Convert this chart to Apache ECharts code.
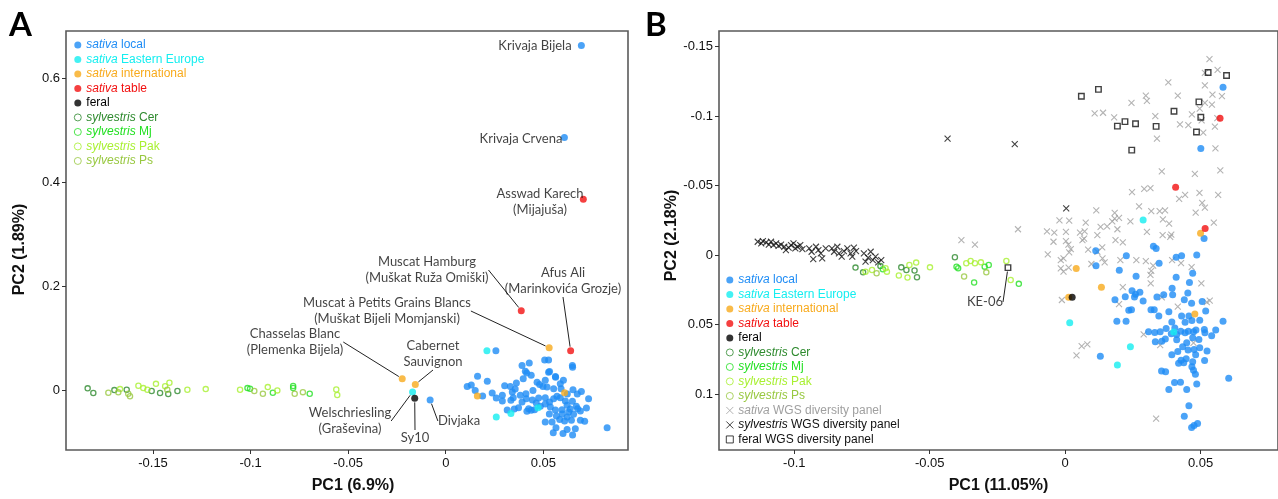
<!DOCTYPE html>
<html>
<head>
<meta charset="utf-8">
<title>PCA</title>
<script src="https://cdn.jsdelivr.net/npm/echarts@6/dist/echarts.min.js"></script>
<style>
html, body { margin:0; padding:0; background:#fff; }
#grafico { width:1278px; height:499px; }
</style>
</head>
<body>
<div id="grafico"></div>
<script>
// ---------- panel A (PC1 6.9% / PC2 1.89%) ----------
var aLocal = [
[0.0695,0.663],[0.0608,0.486],[-0.0080,-0.0190],
[0.0163,0.0268],[0.0213,0.0172],[0.0110,0.0071],[0.0131,0.0096],[0.0151,-0.0006],[0.0189,-0.0115],[0.0259,-0.0153],[0.0290,-0.0101],[0.0290,-0.0210],[0.0302,0.0082],
[0.0331,0.0071],[0.0334,-0.0197],[0.0346,-0.0147],[0.0382,-0.0101],[0.0411,-0.0071],[0.0413,-0.0166],[0.0391,-0.0229],[0.0373,-0.0338],[0.0425,-0.0358],[0.0438,-0.0388],
[0.0416,-0.0407],[0.0397,0.0216],[0.0408,0.0363],[0.0391,0.0472],[0.0447,-0.0006],[0.0468,0.0153],[0.0481,0.0109],[0.0498,0.0071],[0.0519,0.0057],[0.0527,0.0344],
[0.0476,-0.0153],[0.0510,-0.0147],[0.0455,-0.0377],[0.0485,-0.0312],[0.0562,0.0262],[0.0553,0.0025],[0.0587,0.0120],[0.0591,0.0025],[0.0532,-0.0229],[0.0553,-0.0166],
[0.0570,-0.0120],[0.0587,-0.0147],[0.0613,-0.0210],[0.0652,0.0006],[0.0695,-0.0025],[0.0732,-0.0166],[0.0649,-0.0216],[0.0669,-0.0312],[0.0676,-0.0358],[0.0622,-0.0293],
[0.0596,-0.0377],[0.0630,-0.0421],[0.0655,-0.0465],[0.0622,-0.0516],[0.0584,-0.0568],[0.0609,-0.0593],[0.0644,-0.0579],[0.0690,-0.0579],[0.0712,-0.0598],[0.0545,-0.0612],
[0.0565,-0.0727],[0.0622,-0.0759],[0.0601,-0.0836],[0.0650,-0.0866],[0.0664,-0.0746],[0.0827,-0.0727],[0.0650,0.0440],[0.0257,0.0759],[0.0428,0.0522],[0.0507,0.0579],
[0.0527,0.0579],[0.0649,0.0472],[0.0532,0.0358],[0.0563,0.0249],[0.0415,0.0330],[0.0341,-0.0038],[0.0356,0.0019],[0.0444,-0.0191],[0.0464,-0.0249],[0.0510,-0.0268],
[0.0536,-0.0325],[0.0562,-0.0382],[0.0531,-0.0459],[0.0567,-0.0497],[0.0597,-0.0459],[0.0638,-0.0363],[0.0674,-0.0076],[0.0623,-0.0076],[0.0603,0.0191],[0.0510,0.0191],
[0.0438,0.0287],[0.0362,0.0134],[0.0238,-0.0057],[0.0315,-0.0382],[0.0351,-0.0363],[0.0551,-0.0822],[0.0510,-0.0612],[0.0690,-0.0401],[0.0721,-0.0344]
];
var aEast  = [[0.0211,0.0759],[-0.0170,-0.0038],[0.0259,-0.0516],[0.0334,-0.0453],[0.0473,-0.0338]];
var aIntl  = [[-0.0223,0.0220],[-0.0156,0.0109],[0.0530,0.0816],[0.0162,-0.0115],[0.0609,-0.0052]];
var aTable = [[0.0705,0.367],[0.0387,0.1529],[0.0640,0.0759]];
var aFeral = [[-0.0159,-0.0159]];
var aCer = [[-0.1835,0.0033],[-0.1806,-0.0057],[-0.1698,0.0000],[-0.1635,0.0006],[-0.1507,-0.0019],[-0.1464,-0.0057],[-0.1422,-0.0076],[-0.1375,-0.0019]];
var aMj  = [[-0.1016,0.0038],[-0.1003,0.0025],[-0.0886,-0.0052],[-0.0782,0.0080],[-0.0782,0.0040],[-0.0697,-0.0070]];
var aPak = [[-0.1669,0.0019],[-0.1575,0.0082],[-0.1550,0.0038],[-0.1529,0.0006],[-0.1485,0.0120],[-0.1438,0.0076],[-0.1416,0.0140],[-0.1324,0.0006],
            [-0.1230,0.0019],[-0.1054,0.0006],[-0.0912,0.0057],[-0.0863,-0.0006],[-0.0561,0.0010],[-0.0556,-0.0095]];
var aPs  = [[-0.1729,-0.0052],[-0.1678,-0.0044],[-0.1627,-0.0071],[-0.1618,-0.0120],[-0.1427,0.0006],[-0.0981,-0.0019],[-0.0937,-0.0071],[-0.0774,-0.0070],[-0.0732,-0.0040]];
var aNotas = [
[0.0695,0.663,"Krivaja Bijela"],
[0.0608,0.486,"Krivaja Crvena"],
[0.0705,0.367,"Asswad Karech\n(Mijajuša)"],
[0.0387,0.1529,"Muscat Hamburg\n(Muškat Ruža Omiški)"],
[0.0640,0.0759,"Afus Ali\n(Marinkovića Grozje)"],
[0.0530,0.0816,"Muscat à Petits Grains Blancs\n(Muškat Bijeli Momjanski)"],
[-0.0223,0.0220,"Chasselas Blanc\n(Plemenka Bijela)"],
[-0.0156,0.0109,"Cabernet\nSauvignon"],
[-0.0170,-0.0038,"Welschriesling\n(Graševina)"],
[-0.0159,-0.0159,"Sy10"],
[-0.0080,-0.0190,"Divjaka"]
];
var aTicksX = [-0.15,-0.1,-0.05,0,0.05];
var aTicksY = [0,0.2,0.4,0.6];

// ---------- panel B (PC1 11.05% / PC2 2.18%) ----------
var bLocal = [
[0.0583,-0.1207],[0.0501,-0.0767],[0.0513,-0.0119],[0.0326,-0.0064],[0.0336,-0.0048],[0.0113,-0.0031],[0.0226,0.0004],[0.0410,0.0016],[0.0430,0.0004],[0.0486,0.0000],
[0.0114,0.0076],[0.0347,0.0059],[0.0200,0.0109],[0.0471,0.0131],[0.0410,0.0159],[0.0459,0.0197],[0.0395,0.0238],[0.0247,0.0257],[0.0260,0.0281],[0.0276,0.0268],
[0.0256,0.0302],[0.0222,0.0300],[0.0184,0.0321],[0.0364,0.0286],[0.0397,0.0286],[0.0453,0.0273],[0.0440,0.0321],[0.0467,0.0347],[0.0506,0.0333],[0.0235,0.0397],
[0.0245,0.0393],[0.0317,0.0393],[0.0329,0.0393],[0.0383,0.0407],[0.0191,0.0476],[0.0225,0.0476],[0.0443,0.0483],[0.0468,0.0471],[0.0497,0.0468],[0.0583,0.0476],
[0.0373,0.0528],[0.0308,0.0552],[0.0331,0.0557],[0.0351,0.0552],[0.0392,0.0566],[0.0412,0.0571],[0.0427,0.0547],[0.0443,0.0559],[0.0455,0.0547],[0.0474,0.0552],
[0.0483,0.0538],[0.0514,0.0536],[0.0516,0.0559],[0.0556,0.0538],[0.0412,0.0609],[0.0370,0.0604],[0.0357,0.0619],[0.0333,0.0624],[0.0494,0.0607],[0.0454,0.0683],
[0.0476,0.0679],[0.0497,0.0666],[0.0524,0.0690],[0.0416,0.0693],[0.0394,0.0716],[0.0447,0.0745],[0.0471,0.0768],[0.0130,0.0728],[0.0419,0.0778],[0.0428,0.0757],
[0.0438,0.0775],[0.0468,0.0804],[0.0474,0.0828],[0.0481,0.0857],[0.0356,0.0833],[0.0371,0.0840],[0.0404,0.0916],[0.0426,0.0914],[0.0383,0.0966],[0.0486,0.0928],
[0.0604,0.0886],[0.0457,0.1083],[0.0440,0.1159],[0.0467,0.1240],[0.0476,0.1226],[0.0489,0.1211],[0.0457,0.0438],[0.0430,0.0438],[0.0471,0.0595],[0.0449,0.0631],
[0.0434,0.0659],[0.0482,0.0716],[0.0394,0.0481],[0.0405,0.0524],[0.0262,0.0152],[0.0339,0.0302],[0.0288,0.0331],[0.0346,0.0438],[0.0519,0.0402],[0.0541,0.0580],
[0.0449,0.0966],[0.0515,0.0759]
];
var bEast  = [[0.0288,-0.0253],[0.0017,0.0486],[0.0241,0.0659],[0.0193,0.0790],[0.0401,0.0554]];
var bIntl  = [[0.0500,-0.0157],[0.0041,0.0097],[0.0134,0.0231],[0.0013,0.0304],[0.0479,0.0423]];
var bTable = [[0.0572,-0.0985],[0.0408,-0.0488],[0.0517,-0.0191]];
var bFeral = [[0.0026,0.0304]];
var bCer = [[-0.0774,0.0090],[-0.0746,0.0124],[-0.0682,0.0079],[-0.0605,0.0088],[-0.0586,0.0107],[-0.0556,0.0111],[-0.0547,0.0159],[-0.0407,0.0016]];
var bMj  = [[-0.0673,0.0102],[-0.0401,0.0083],[-0.0395,0.0095],[-0.0336,0.0197],[-0.0297,0.0083],[-0.0282,0.0071],[-0.0171,0.0207]];
var bPak = [[-0.0737,0.0119],[-0.0713,0.0107],[-0.0663,0.0095],[-0.0658,0.0119],[-0.0614,0.0147],[-0.0582,0.0161],[-0.0575,0.0071],[-0.0550,0.0054],
            [-0.0499,0.0088],[-0.0365,0.0059],[-0.0349,0.0043],[-0.0333,0.0059],[-0.0311,0.0052],[-0.0217,0.0043],[-0.0201,0.0179]];
var bPs  = [[-0.0373,0.0154],[-0.0291,0.0124],[-0.0696,0.0131]];
var bSatWgs = [
[0.0533,-0.1410],[0.0563,-0.1333],[0.0516,-0.1310],[0.0381,-0.1243],[0.0516,-0.1221],[0.0298,-0.1147],[0.0302,-0.1110],[0.0416,-0.1147],[0.0544,-0.1155],[0.0579,-0.1143],
[0.0245,-0.1095],[0.0516,-0.1095],[0.0542,-0.1083],[0.0497,-0.1053],[0.0109,-0.1019],[0.0140,-0.1024],[0.0181,-0.0991],[0.0333,-0.1000],[0.0468,-0.1012],[0.0424,-0.0941],
[0.0455,-0.0935],[0.0504,-0.0969],[0.0562,-0.0985],[0.0553,-0.0924],[0.0510,-0.0881],[0.0339,-0.0838],[0.0555,-0.0767],[0.0357,-0.0603],[0.0479,-0.0584],[0.0573,-0.0610],
[0.0247,-0.0453],[0.0292,-0.0476],[0.0315,-0.0481],[0.0421,-0.0405],[0.0443,-0.0433],[0.0496,-0.0448],[0.0565,-0.0433],[0.0506,-0.0376],[0.0516,-0.0341],[0.0482,-0.0305],
[0.0115,-0.0321],[0.0183,-0.0303],[0.0273,-0.0350],[0.0318,-0.0317],[0.0349,-0.0317],[0.0369,-0.0321],[0.0549,-0.0233],[-0.0021,-0.0250],[0.0015,-0.0248],[0.0076,-0.0233],
[0.0183,-0.0262],[0.0174,-0.0243],[0.0199,-0.0267],[0.0241,-0.0243],[0.0361,-0.0257],[0.0384,-0.0226],[-0.0174,-0.0186],[-0.0067,-0.0171],[-0.0040,-0.0162],[0.0003,-0.0167],
[0.0055,-0.0162],[0.0072,-0.0171],[0.0131,-0.0203],[0.0155,-0.0207],[0.0193,-0.0186],[0.0302,-0.0167],[0.0360,-0.0143],[0.0388,-0.0131],[0.0392,-0.0148],[-0.0043,-0.0096],
[0.0003,-0.0100],[0.0012,-0.0076],[0.0064,-0.0107],[0.0070,-0.0119],[0.0119,-0.0143],[0.0186,-0.0107],[0.0213,-0.0091],[0.0021,-0.0043],[0.0015,-0.0019],[0.0085,-0.0039],
[0.0137,-0.0055],[0.0119,-0.0024],[-0.0064,-0.0005],[-0.0016,0.0036],[-0.0006,0.0024],[0.0097,0.0064],[0.0138,0.0024],[0.0146,0.0052],[0.0204,0.0036],[0.0263,0.0036],
[0.0298,0.0043],[0.0325,0.0076],[0.0395,0.0036],[0.0428,0.0057],[0.0467,0.0086],[-0.0016,0.0095],[-0.0006,0.0119],[0.0013,0.0090],[0.0318,0.0114],[0.0315,0.0143],
[0.0316,0.0204],[0.0503,0.0204],[0.0213,0.0231],[0.0357,0.0304],[-0.0012,0.0323],[0.0199,0.0352],[0.0416,0.0371],[0.0523,0.0338],[0.0534,0.0328],[0.0290,0.0571],
[0.0351,0.0647],[0.0474,0.0631],[0.0042,0.0721],[0.0061,0.0654],[0.0082,0.0643],[0.0336,0.1176],[-0.0383,-0.0107],[-0.0333,-0.0076]
];
var bSylWgs = [
[-0.1135,-0.0096],[-0.1122,-0.0084],[-0.1116,-0.0100],[-0.1104,-0.0091],[-0.1094,-0.0076],[-0.1086,-0.0096],[-0.1077,-0.0071],[-0.1067,-0.0084],[-0.1058,-0.0067],[-0.1049,-0.0076],
[-0.1037,-0.0060],[-0.1031,-0.0036],[-0.1021,-0.0053],[-0.1012,-0.0071],[-0.1003,-0.0084],[-0.0996,-0.0048],[-0.0988,-0.0060],[-0.0978,-0.0071],[-0.0970,-0.0043],[-0.0945,-0.0048],
[-0.0936,-0.0024],[-0.0930,0.0029],[-0.0920,-0.0060],[-0.0911,-0.0036],[-0.0902,-0.0012],[-0.0897,0.0024],[-0.0884,-0.0048],[-0.0861,-0.0048],[-0.0853,-0.0024],[-0.0841,-0.0060],
[-0.0835,-0.0012],[-0.0825,0.0011],[-0.0817,-0.0029],[-0.0804,-0.0048],[-0.0792,-0.0012],[-0.0786,0.0011],[-0.0780,-0.0053],[-0.0772,-0.0029],[-0.0743,-0.0012],[-0.0737,0.0047],
[-0.0727,0.0019],[-0.0718,-0.0024],[-0.0710,0.0036],[-0.0700,0.0011],[-0.0690,0.0052],[-0.0679,0.0036],
[-0.0434,-0.0838],[-0.0186,-0.0798],[0.0004,-0.0336]
];
var bFeralWgs = [[0.0060,-0.1143],[0.0123,-0.1192],[0.0193,-0.0928],[0.0221,-0.0960],[0.0260,-0.0945],[0.0336,-0.0926],[0.0402,-0.1035],
                 [0.0494,-0.1102],[0.0501,-0.0992],[0.0485,-0.0885],[0.0246,-0.0755],[0.0528,-0.1314],[0.0596,-0.1292],[-0.0211,0.0090]];
var bNotas = [[-0.0211,0.0090,"KE-06"]];
var bTicksX = [-0.1,-0.05,0,0.05];
var bTicksY = [-0.15,-0.1,-0.05,0,0.05,0.1];

// ---------- estilo ----------
var colores = {
    "sativa local": "#1E8CF5",
    "sativa Eastern Europe": "#14EEF0",
    "sativa international": "#F8AA1C",
    "sativa table": "#F21010",
    "feral": "#000000",
    "sylvestris Cer": "#2E8A2E",
    "sylvestris Mj": "#22E022",
    "sylvestris Pak": "#A8F030",
    "sylvestris Ps": "#98C840",
    "sativa WGS diversity panel": "#A0A0A0",
    "sylvestris WGS diversity panel": "#111111",
    "feral WGS diversity panel": "#111111"
};
var nombresA = ["sativa local","sativa Eastern Europe","sativa international","sativa table","feral",
                "sylvestris Cer","sylvestris Mj","sylvestris Pak","sylvestris Ps"];
var nombresB = nombresA.concat(["sativa WGS diversity panel","sylvestris WGS diversity panel","feral WGS diversity panel"]);

// posiciones de las etiquetas (pixeles), y si llevan linea guia
var posA = [
    [535,46,false],[521,139,false],[540,202,false],[427,270,true],[563,281,true],[387,311,true],
    [295,342,true],[433,354,true],[350,421,true],[415,438,true],[459,421,true]
];
var posB = [[985,302,true]];

var fuenteEje = "Liberation Sans";
var fuenteNota = "Lato";
var CRUZ = "path://M0,0L10,10M10,0L0,10";

function serie(nombre, datos, panel, tipo){
    var c = colores[nombre];
    var s = {
        name: nombre, type: "scatter", xAxisIndex: panel, yAxisIndex: panel,
        data: datos, animation: false, emphasis: { disabled: true }, silent: true
    };
    switch (tipo) {
        case "punto":
            s.symbol = "circle"; s.symbolSize = 7; s.itemStyle = { color: c }; s.z = 4;
            break;
        case "anillo":
            s.symbol = "circle"; s.symbolSize = 5.2;
            s.itemStyle = { color: "rgba(0,0,0,0)", borderColor: c, borderWidth: 1.3 }; s.z = 3;
            break;
        case "cruz":
            s.symbol = CRUZ; s.symbolSize = 6;
            s.itemStyle = { color: "rgba(0,0,0,0)", borderColor: c, borderWidth: 1.1 }; s.z = 2;
            break;
        case "cuadro":
            s.symbol = "rect"; s.symbolSize = 5.5;
            s.itemStyle = { color: "rgba(0,0,0,0)", borderColor: c, borderWidth: 1.4 }; s.z = 5;
            break;
    }
    return s;
}

function notas(datos, pos, panel){
    return {
        name: "notas" + panel, type: "scatter", xAxisIndex: panel, yAxisIndex: panel,
        animation: false, silent: true, z: 6,
        symbol: "circle", symbolSize: 8, itemStyle: { color: "rgba(0,0,0,0)" },
        data: datos.map(function(d, i){
            return { value: [d[0], d[1], d[2]], labelLine: { show: pos[i][2] } };
        }),
        label: {
            show: true, formatter: function(p){ return p.value[2]; },
            fontFamily: fuenteNota, fontSize: 13, lineHeight: 16, color: "#111", align: "center"
        },
        labelLayout: function(p){
            var q = pos[p.dataIndex];
            return { x: q[0], y: q[1], align: "center", verticalAlign: "middle" };
        },
        labelLine: { show: true, lineStyle: { color: "#222", width: 1 } }
    };
}

function fmtLeyenda(nombre){
    var partes = nombre.split(" ");
    if (partes[0] === "sativa" || partes[0] === "sylvestris") {
        return "{i|" + partes[0] + "} " + partes.slice(1).join(" ");
    }
    return nombre;
}

function leyenda(nombres, left, top){
    return {
        data: nombres.map(function(n){
            var item = { name: n, textStyle: { color: colores[n] } };
            if (n.indexOf("sylvestris") === 0 || n.indexOf("WGS") > 0) {
                item.itemStyle = { borderWidth: 1 };
            }
            return item;
        }),
        orient: "vertical", left: left, top: top, padding: 0, itemGap: 0,
        itemWidth: 7, itemHeight: 7, selectedMode: false,
        formatter: fmtLeyenda,
        textStyle: {
            fontFamily: fuenteEje, fontSize: 12, lineHeight: 14.5,
            rich: { i: { fontStyle: "italic", fontFamily: fuenteEje, fontSize: 12, lineHeight: 14.5 } }
        }
    };
}

function ejeX(panel, min, max, ticks, nombre, pad){
    return {
        gridIndex: panel, type: "value", min: min, max: max, position: "bottom",
        name: nombre, nameLocation: "middle", nameGap: 28,
        nameTextStyle: { fontFamily: fuenteEje, fontWeight: "bold", fontSize: 16, color: "#111", padding: pad },
        axisLine: { show: false, onZero: false },
        axisTick: { show: true, length: 4, customValues: ticks, lineStyle: { color: "#333" } },
        axisLabel: { customValues: ticks, margin: 7, fontFamily: fuenteEje, fontSize: 13, color: "#111" },
        splitLine: { show: false }
    };
}

function ejeY(panel, min, max, ticks, nombre, gap, pad, inverso){
    return {
        gridIndex: panel, type: "value", min: min, max: max, inverse: inverso, position: "left",
        name: nombre, nameLocation: "middle", nameGap: gap, nameRotate: 90,
        nameTextStyle: { fontFamily: fuenteEje, fontWeight: "bold", fontSize: 16, color: "#111", padding: pad },
        axisLine: { show: false, onZero: false },
        axisTick: { show: true, length: 4, customValues: ticks, lineStyle: { color: "#333" } },
        axisLabel: { customValues: ticks, margin: 6, fontFamily: fuenteEje, fontSize: 13, color: "#111" },
        splitLine: { show: false }
    };
}

var dom = document.getElementById("grafico");
var myChart = echarts.init(dom, null, { renderer: "canvas" });
var option = {
    backgroundColor: "#fff",
    animation: false,
    grid: [
        { left: 66, top: 31, width: 562, height: 422, show: true, borderColor: "#5a5a5a", borderWidth: 1.6, backgroundColor: "rgba(0,0,0,0)" },
        { left: 719, top: 31, width: 563, height: 422, show: true, borderColor: "#5a5a5a", borderWidth: 1.6, backgroundColor: "rgba(0,0,0,0)" }
    ],
    xAxis: [
        ejeX(0, -0.1946, 0.0934, aTicksX, "PC1 (6.9%)", [0, 0, 0, 12]),
        ejeX(1, -0.1278, 0.0786, bTicksX, "PC1 (11.05%)", [0, 0, 0, 0])
    ],
    yAxis: [
        ejeY(0, -0.1153, 0.691, aTicksY, "PC2 (1.89%)", 38, [0, 18, 0, 0], false),
        ejeY(1, -0.1612, 0.1402, bTicksY, "PC2 (2.18%)", 38, [0, 0, 0, 10], true)
    ],
    legend: [ leyenda(nombresA, 73.8, 37.7), leyenda(nombresB, 725.8, 272.7) ],
    graphic: [
        { type: "text", left: 9, top: 9, style: { text: "A", font: "bold 33px Lato", fill: "#000" } },
        { type: "text", left: 645, top: 9, style: { text: "B", font: "bold 33px Lato", fill: "#000" } }
    ],
    series: [
        serie("sylvestris Cer", aCer, 0, "anillo"),
        serie("sylvestris Mj", aMj, 0, "anillo"),
        serie("sylvestris Pak", aPak, 0, "anillo"),
        serie("sylvestris Ps", aPs, 0, "anillo"),
        serie("sativa local", aLocal, 0, "punto"),
        serie("sativa Eastern Europe", aEast, 0, "punto"),
        serie("sativa international", aIntl, 0, "punto"),
        serie("sativa table", aTable, 0, "punto"),
        serie("feral", aFeral, 0, "punto"),
        notas(aNotas, posA, 0),

        serie("sativa WGS diversity panel", bSatWgs, 1, "cruz"),
        serie("sylvestris WGS diversity panel", bSylWgs, 1, "cruz"),
        serie("sylvestris Cer", bCer, 1, "anillo"),
        serie("sylvestris Mj", bMj, 1, "anillo"),
        serie("sylvestris Pak", bPak, 1, "anillo"),
        serie("sylvestris Ps", bPs, 1, "anillo"),
        serie("sativa local", bLocal, 1, "punto"),
        serie("sativa Eastern Europe", bEast, 1, "punto"),
        serie("sativa international", bIntl, 1, "punto"),
        serie("sativa table", bTable, 1, "punto"),
        serie("feral", bFeral, 1, "punto"),
        serie("feral WGS diversity panel", bFeralWgs, 1, "cuadro"),
        notas(bNotas, posB, 1)
    ]
};
myChart.setOption(option, true);
window.addEventListener("resize", function(){
    if (myChart != null && myChart != undefined) {
        myChart.resize();
    }
});
</script>
</body>
</html>
